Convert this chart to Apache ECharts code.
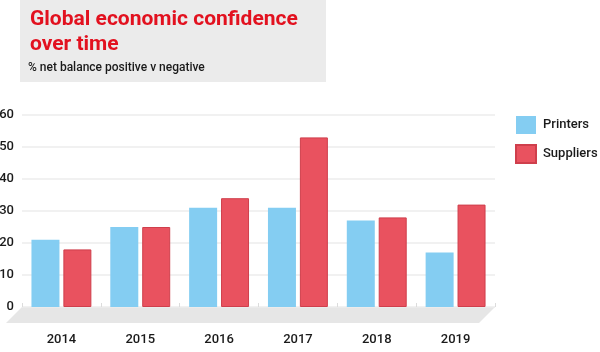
<!DOCTYPE html>
<html>
<head>
<meta charset="utf-8">
<script src="https://cdn.jsdelivr.net/npm/echarts@6/dist/echarts.min.js"></script>
<style>
  html, body { margin: 0; padding: 0; background: #fff; }
  #chart { width: 600px; height: 352px; }
</style>
</head>
<body>
<div id="chart"></div>
<script>
var years = ['2014', '2015', '2016', '2017', '2018', '2019'];
var printers = [21, 25, 31, 31, 27, 17];
var suppliers = [18, 25, 34, 53, 28, 32];
var yTicks = [0, 10, 20, 30, 40, 50, 60];

var labelFont = "'Roboto', 'Liberation Sans', sans-serif";

// grid box in px
var gridLeft = 22, gridRight = 105, gridTop = 115, gridBottom = 45;
var W = 600, H = 352;
var floorY = H - gridBottom;
var floorX0 = gridLeft, floorX1 = W - gridRight;

var chart = echarts.init(document.getElementById('chart'), null, { renderer: 'canvas' });

chart.setOption({
    animation: false,
    backgroundColor: '#ffffff',
    textStyle: { fontFamily: labelFont },
    grid: {
        left: gridLeft, right: gridRight, top: gridTop, bottom: gridBottom,
        containLabel: false, outerBoundsMode: 'none'
    },
    legend: {
        orient: 'vertical',
        left: 510,
        top: 111,
        itemWidth: 20,
        itemHeight: 18,
        itemGap: 10,
        icon: 'rect',
        textStyle: { fontFamily: labelFont, fontSize: 13, fontWeight: 500, color: '#1a1a1a', padding: [0, 0, 0, 2] },
        data: ['Printers', 'Suppliers']
    },
    xAxis: {
        type: 'category',
        data: years,
        axisLine: { show: false },
        axisTick: { show: true, inside: true, length: 4, lineStyle: { color: '#dcdcdc' } },
        axisLabel: { color: '#1a1a1a', fontSize: 13, fontWeight: 500, fontFamily: labelFont, margin: 26 }
    },
    yAxis: {
        type: 'value',
        min: yTicks[0],
        max: yTicks[yTicks.length - 1],
        interval: 10,
        axisLine: { show: false },
        axisTick: { show: false },
        axisLabel: { color: '#1a1a1a', fontSize: 13, fontWeight: 500, fontFamily: labelFont, margin: 8 },
        splitLine: { lineStyle: { color: '#ececec', width: 1.5 } }
    },
    series: [
        {
            name: 'Printers',
            type: 'bar',
            data: printers,
            barGap: '14%',
            barCategoryGap: '24%',
            itemStyle: { color: '#84cdf2' }
        },
        {
            name: 'Suppliers',
            type: 'bar',
            data: suppliers,
            itemStyle: { color: '#e9525f', borderColor: '#cf3f4c', borderWidth: 1 }
        }
    ],
    graphic: [
        {
            type: 'rect',
            shape: { x: 20, y: 0, width: 306, height: 82 },
            style: { fill: '#ebebeb' },
            z: -1
        },
        {
            type: 'text',
            left: 30,
            top: 7,
            style: {
                text: 'Global economic confidence\nover time',
                fill: '#e2111f',
                font: "bold 21px 'Roboto', 'Liberation Sans', sans-serif",
                lineHeight: 25
            }
        },
        {
            type: 'text',
            left: 28,
            top: 62,
            style: {
                text: '% net balance positive v negative',
                fill: '#1a1a1a',
                font: "500 12px " + labelFont
            }
        },
        {
            type: 'polygon',
            shape: {
                points: [
                    [floorX0, floorY], [floorX1, floorY],
                    [floorX1 - 16, floorY + 16], [floorX0 - 16, floorY + 16]
                ]
            },
            style: { fill: '#e6e6e6' },
            z: -1
        }
    ]
});
</script>
</body>
</html>
